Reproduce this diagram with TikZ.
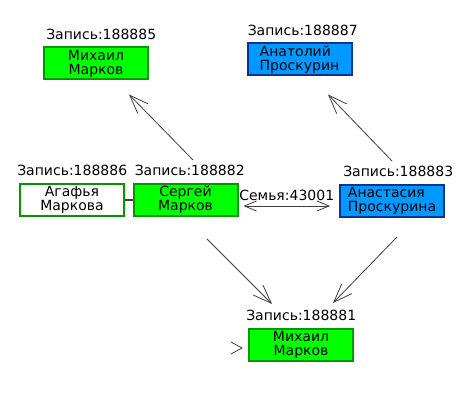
\documentclass[tikz,border=0pt]{standalone}
\usepackage{fontspec}
\setmainfont{DejaVu Sans}
\usetikzlibrary{arrows.meta, positioning}
\definecolor{mgreen}{HTML}{00FF00}
\definecolor{mgreenline}{HTML}{009A00}
\definecolor{fblue}{HTML}{0099FF}
\definecolor{fblueline}{HTML}{0A3396}
\definecolor{linkgray}{HTML}{3C3C3C}

\begin{document}
\begin{tikzpicture}[x=0.75pt, y=0.75pt,
  person/.style={draw, line width=1.5pt, minimum width=78pt, minimum height=24pt,
    inner sep=1pt, font=\fontsize{10.5}{10.5}\selectfont},
  male/.style={person, fill=mgreen, draw=mgreenline, align=center},
  female/.style={person, fill=white, draw=mgreenline, align=center},
  other/.style={person, fill=fblue, draw=fblueline, align=left},
  reclabel/.style={anchor=base west, inner sep=0pt, font=\fontsize{10.5}{12}\selectfont},
  link/.style={draw=linkgray, line width=0.6pt},
  tip/.style={-{Straight Barb[length=14pt, width=10.5pt]}},
  famtip/.style={{Straight Barb[length=9pt, width=7.5pt]}-{Straight Barb[length=9pt, width=7.5pt]}}]

\useasboundingbox (0,0) rectangle (469,418);

% Records
\node[male] (m5) at (96,354.5) {Михаил\\Марков};
\node[other] (a7) at (299.5,358.5) {Анатолий\\Проскурин};
\draw[link, line width=1pt] (72,218) -- (185.5,218);
\node[female] (a6) at (72,218) {Агафья\\Маркова};
\node[male] (s2) at (185.5,218) {Сергей\\Марков};
\node[other] (p3) at (392,217) {Анастасия\\Проскурина};
\node[male] (m1) at (301,73) {Михаил\\Марков};

% Record labels
\node[reclabel] (m5lab) at ([shift={(3,7)}]m5.north west) {Запись:188885};
\node[reclabel] (a7lab) at ([shift={(1,7)}]a7.north west) {Запись:188887};
\node[reclabel] (a6lab) at ([shift={(-2,7)}]a6.north west) {Запись:188886};
\node[reclabel] (s2lab) at ([shift={(2,7)}]s2.north west) {Запись:188882};
\node[reclabel] (p3lab) at ([shift={(4,7)}]p3.north west) {Запись:188883};
\node[reclabel] (m1lab) at ([shift={(-2,7)}]m1.north west) {Запись:188881};

% Parents
\draw[link, tip] ([shift={(7.5,23)}]s2.north) -- ([shift={(33,-14)}]m5.south);
\draw[link, tip] ([shift={(0,23)}]p3.north) -- ([shift={(28.5,-18)}]a7.south);

% Family
\draw[link, famtip] ([shift={(5,-6)}]s2.east) -- ([shift={(-9,-5)}]p3.west)
  node[midway, above=4pt, font=\fontsize{10.5}{12}\selectfont, inner sep=0pt] (fam) {Семья:43001};

% Children
\draw[link, tip] ([shift={(21.5,-22)}]s2.south) -- ([shift={(-29,24)}]m1.north);
\draw[link, tip] ([shift={(5,-19)}]p3.south) -- ([shift={(32,25)}]m1.north);
\draw[link] ([shift={(-17,3)}]m1.west) -- ([shift={(-6,-3)}]m1.west) -- ([shift={(-17,-9)}]m1.west);

\end{tikzpicture}
\end{document}
